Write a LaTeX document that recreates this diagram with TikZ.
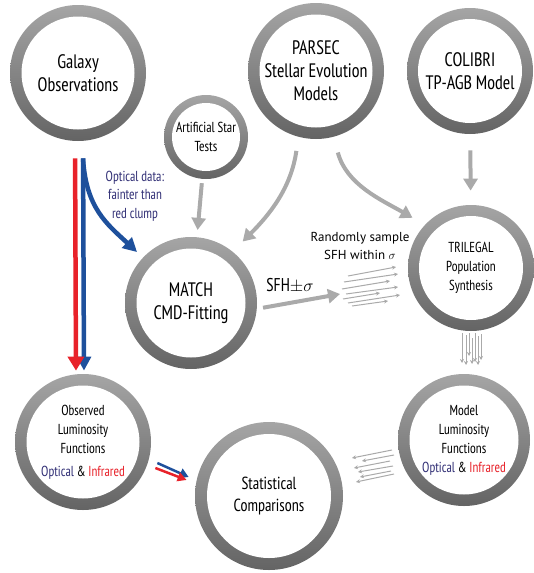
\documentclass[tikz,border=0pt]{standalone}
\usepackage{fontspec}
\setmainfont[FakeStretch=0.92]{PT Sans Narrow}
\newfontfamily\widefont{PT Sans}
\usetikzlibrary{arrows.meta}

\definecolor{ringtop}{RGB}{165,165,165}
\definecolor{ringbot}{RGB}{100,100,100}
\definecolor{arrgray}{RGB}{170,170,170}
\definecolor{irred}{RGB}{232,34,42}
\definecolor{optblue}{RGB}{30,80,156}
\definecolor{notetxt}{RGB}{50,48,118}

\tikzset{every picture/.style={line width=0.75pt}}
\tikzset{
  ring/.style 2 args={circle, inner sep=0pt, minimum size=#1, top color=ringtop, bottom color=ringbot,
    align=center, path picture={\fill[white] (path picture bounding box.center) circle[radius=#1/2-#2];}},
  bigtxt/.style={font=\fontsize{19.5}{23}\selectfont},
  midtxt/.style={font=\fontsize{14.5}{19}\selectfont},
  grayarrow/.style={draw=arrgray, line width=4pt, -{Triangle[length=12pt,width=14pt]}},
  redarrow/.style={draw=irred, line width=4.5pt, -{Triangle[length=14pt,width=16pt]}},
  bluearrow/.style={draw=optblue, line width=4.5pt, -{Triangle[length=14pt,width=14pt]}},
  thinarrow/.style={draw=arrgray, line width=1pt, -{Stealth[length=4pt,width=4pt]}}
}

\begin{document}
\begin{tikzpicture}[x=1pt,y=1pt,yscale=-1,xscale=1]
\useasboundingbox (0,0) rectangle (533,573);

%Shape: Circles
\node[ring={136pt}{11.5pt}, bigtxt] (gal) at (78,73) {Galaxy\\Observations};
\node[ring={84pt}{8pt}, midtxt] (ast) at (206,137) {Artificial Star\\Tests};
\node[ring={136pt}{11.5pt}, bigtxt] (parsec) at (316,71) {PARSEC\\Stellar Evolution\\Models};
\node[ring={126pt}{11pt}, bigtxt] (colibri) at (470,71) {COLIBRI\\TP-AGB Model};
\node[ring={132pt}{11.5pt}, bigtxt] (match) at (191,303) {MATCH\\CMD-Fitting};
\node[ring={126pt}{11pt}, midtxt] (trilegal) at (471,268) {TRILEGAL\\Population\\Synthesis};
\node[ring={136pt}{11.5pt}, midtxt] (obs) at (83,442) {Observed\\Luminosity\\Functions\\[4pt]{\color{notetxt}Optical} \& {\color{irred}Infrared}};
\node[ring={148pt}{12pt}, font=\fontsize{17.5}{22}\selectfont] (stat) at (269,496) {Statistical\\Comparisons};
\node[ring={132pt}{11.5pt}, midtxt] (model) at (464,440) {Model\\Luminosity\\Functions\\{\color{notetxt}Optical} \& {\color{irred}Infrared}};

% Text Node
\node[align=center, text=notetxt, font=\fontsize{14.5}{18.5}\selectfont] (note) at (135,196) {Optical data:\\fainter than\\red clump};
% Text Node
\node[align=center, font=\widefont\fontsize{13}{18}\selectfont] (sample) at (360,246) {Randomly sample\\SFH within $\sigma$};
% Text Node
\node[font=\fontsize{18.5}{20}\selectfont] (sfh) at (290,286) {SFH$\pm\sigma$};
\coordinate (sfhend) at (340,294);

%Straight Lines
\draw[bluearrow, shorten <=17pt, shorten >=3pt] ([xshift=5pt]gal.south) -- ([xshift=1pt]obs.north);
\draw[redarrow, shorten <=17pt, shorten >=3pt] ([xshift=-3pt]gal.south) -- ([xshift=-7pt]obs.north);
\draw[bluearrow] ([xshift=5pt,yshift=17pt]gal.south) .. controls +(3,50) and +(-30,-28) .. ([xshift=-7pt,yshift=-4pt]match.135);

\draw[grayarrow, shorten <=4pt, shorten >=7pt] (ast) -- (match);
\draw[grayarrow, shorten <=14pt, shorten >=14pt] (parsec.255) to[out=98, in=315] (match.51);
\draw[grayarrow, shorten <=16pt, shorten >=14pt] (parsec.285) to[out=75, in=210] (trilegal.137);
\draw[grayarrow, shorten <=16pt, shorten >=14pt] (colibri) -- (trilegal);
\draw[grayarrow, shorten <=6pt] (match.-5) -- (sfhend);

% random SFH draws
\foreach \sx/\sy/\ex/\ey in {348/276/396/267, 344/282/398/274, 342/289/390/281, 346/294/398/287,
  343/299/380/293, 348/303/400/295, 352/306/388/301}
  \draw[thinarrow] (\sx,\sy) -- (\ex,\ey);
\foreach \sx/\sy/\ey in {462/333/363, 466/335/365, 469/333/356, 472/338/364, 475/333/362, 478/336/365, 481/334/360}
  \draw[thinarrow] (\sx,\sy) -- (\sx,\ey);
\foreach \sx/\sy/\ex/\ey in {392/450/352/458, 394/455/362/461, 390/461/354/468, 393/466/358/472,
  391/471/360/477, 394/474/356/482}
  \draw[thinarrow] (\sx,\sy) -- (\ex,\ey);

%Straight Lines
\draw[draw=optblue, line width=2.5pt, -{Triangle[length=9pt,width=10pt]}] ([xshift=6pt,yshift=21pt]obs.east) -- ([xshift=-6pt,yshift=-19pt]stat.west);
\draw[draw=irred, line width=2.5pt, -{Triangle[length=9pt,width=9pt]}] ([xshift=4pt,yshift=26pt]obs.east) -- ([xshift=-8pt,yshift=-16pt]stat.west);

\end{tikzpicture}
\end{document}
